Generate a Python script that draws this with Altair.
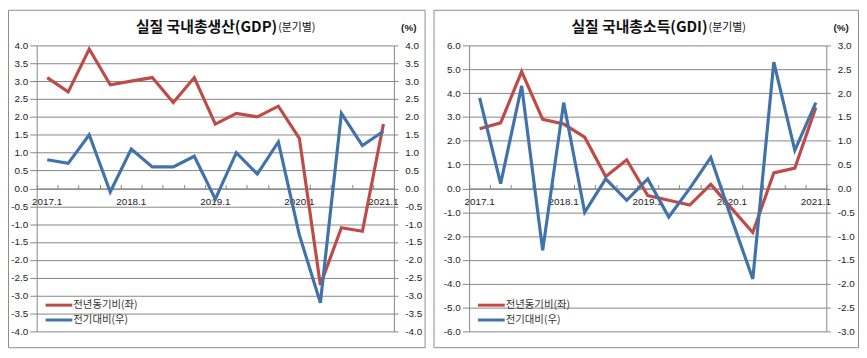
import altair as alt
import pandas as pd

quarters = ["2017.1", "2017.2", "2017.3", "2017.4",
            "2018.1", "2018.2", "2018.3", "2018.4",
            "2019.1", "2019.2", "2019.3", "2019.4",
            "2020.1", "2020.2", "2020.3", "2020.4",
            "2021.1"]
label_quarters = ["2017.1", "2018.1", "2019.1", "2020.1", "2021.1"]

# GDP (left panel)
gdp_yoy = [3.1, 2.7, 3.9, 2.9, 3.0, 3.1, 2.4, 3.1, 1.8, 2.1, 2.0, 2.3, 1.4, -2.7, -1.1, -1.2, 1.8]
gdp_qoq = [0.8, 0.7, 1.5, -0.1, 1.1, 0.6, 0.6, 0.9, -0.3, 1.0, 0.4, 1.3, -1.3, -3.2, 2.1, 1.2, 1.6]
# GDI (right panel)
gdi_yoy = [2.5, 2.75, 4.9, 2.9, 2.7, 2.15, 0.5, 1.2, -0.3, -0.5, -0.7, 0.17, -0.85, -1.85, 0.65, 0.85, 3.4]
gdi_qoq = [1.9, 0.1, 2.15, -1.3, 1.8, -0.5, 0.2, -0.25, 0.2, -0.6, 0.0, 0.65, -0.65, -1.9, 2.65, 0.8, 1.8]

gdp_left_ticks = [-4.0, -3.5, -3.0, -2.5, -2.0, -1.5, -1.0, -0.5, 0.0, 0.5, 1.0, 1.5, 2.0, 2.5, 3.0, 3.5, 4.0]
gdp_right_ticks = gdp_left_ticks
gdi_left_ticks = [-6.0, -5.0, -4.0, -3.0, -2.0, -1.0, 0.0, 1.0, 2.0, 3.0, 4.0, 5.0, 6.0]
gdi_right_ticks = [-3.0, -2.5, -2.0, -1.5, -1.0, -0.5, 0.0, 0.5, 1.0, 1.5, 2.0, 2.5, 3.0]

title_gdp = "실질 국내총생산(GDP)"
title_gdi = "실질 국내총소득(GDI)"
title_sub = "(분기별)"
unit_text = "(%)"
series_names = ["전년동기비(좌)", "전기대비(우)"]

RED = "#BE4B48"
BLUE = "#4272AA"
GRID = "#868686"
BORDER = "#8C8C8C"
KR = "Noto Sans CJK KR"
LAT = "Liberation Sans"

W = 361
H = 289

LABEL_EXPR = "replace(format(datum.value, '.1f'), '\u2212', '-')"


def panel(yoy, qoq, main_title, ldom, lvals, rdom, rvals, box_x, box_x2, title_x):
    df = pd.DataFrame({"q": quarters, "yoy": yoy, "qoq": qoq})
    one = pd.DataFrame({"k": [0]})
    xs = alt.Scale(type="band", domain=quarters, paddingInner=0, paddingOuter=0)

    box = alt.Chart(one).mark_rect(fillOpacity=0, stroke=BORDER, strokeWidth=1).encode(
        x=alt.value(box_x), x2=alt.value(box_x2), y=alt.value(-35.5), y2=alt.value(305.5)
    )

    red = alt.Chart(df).mark_line(color=RED, strokeWidth=3.2).encode(
        x=alt.X("q:O", bandPosition=0.5, scale=xs,
                axis=alt.Axis(orient="top", offset=-H / 2, labels=False, title=None,
                              ticks=True, tickBand="extent", tickSize=4, tickColor=GRID,
                              domainColor=GRID, grid=False, values=quarters)),
        y=alt.Y("yoy:Q", scale=alt.Scale(domain=ldom, nice=False, zero=False),
                axis=alt.Axis(orient="left", values=lvals, labelExpr=LABEL_EXPR, grid=True,
                              gridColor=GRID, domainColor=GRID, tickColor=GRID, tickSize=7,
                              labelPadding=2, title=None)),
    )

    blue = alt.Chart(df).mark_line(color=BLUE, strokeWidth=3.2).encode(
        x=alt.X("q:O", bandPosition=0.5, scale=xs,
                axis=alt.Axis(orient="bottom", offset=-H / 2, values=label_quarters,
                              ticks=False, domain=False, labelPadding=8, labelAngle=0,
                              title=None, grid=False)),
        y=alt.Y("qoq:Q", scale=alt.Scale(domain=rdom, nice=False, zero=False),
                axis=alt.Axis(orient="right", values=rvals, labelExpr=LABEL_EXPR, grid=False,
                              domainColor=GRID, tickColor=GRID, tickSize=4,
                              labelPadding=7, title=None)),
    )

    t_main = alt.Chart(one).mark_text(text=main_title, font=KR, fontSize=15, fontWeight="bold",
                                      align="right", baseline="middle", color="#111").encode(
        x=alt.value(title_x), y=alt.value(-19))
    t_sub = alt.Chart(one).mark_text(text=title_sub, font=KR, fontSize=11,
                                     align="left", baseline="middle", color="#111").encode(
        x=alt.value(title_x + 1), y=alt.value(-18))
    t_unit = alt.Chart(one).mark_text(text=unit_text, font=LAT, fontSize=10, fontWeight="bold",
                                      align="center", baseline="middle", color="#222").encode(
        x=alt.value(376), y=alt.value(-18))

    leg_r = alt.Chart(one).mark_rule(color=RED, strokeWidth=3).encode(
        x=alt.value(9), x2=alt.value(36), y=alt.value(262.5))
    leg_b = alt.Chart(one).mark_rule(color=BLUE, strokeWidth=3).encode(
        x=alt.value(9), x2=alt.value(36), y=alt.value(277.5))
    leg_rt = alt.Chart(one).mark_text(text=series_names[0], font=KR, fontSize=10.5, align="left",
                                      baseline="middle", color="#333").encode(
        x=alt.value(37), y=alt.value(262.5))
    leg_bt = alt.Chart(one).mark_text(text=series_names[1], font=KR, fontSize=10.5, align="left",
                                      baseline="middle", color="#333").encode(
        x=alt.value(37), y=alt.value(277.5))

    return alt.layer(box, red, blue, t_main, t_sub, t_unit, leg_r, leg_b, leg_rt, leg_bt).resolve_scale(
        y="independent").resolve_axis(x="independent").properties(width=W, height=H)


left = panel(gdp_yoy, gdp_qoq, title_gdp, [-4, 4], gdp_left_ticks, [-4, 4], gdp_right_ticks,
             -28.5, 392.5, 243)
right = panel(gdi_yoy, gdi_qoq, title_gdi, [-6, 6], gdi_left_ticks, [-3, 3], gdi_right_ticks,
              -35.5, 393.5, 241)

chart = alt.hconcat(left, right, spacing=8).properties(
    padding=0, background="white"
).configure_view(strokeWidth=0).configure_axis(
    labelFont=LAT, labelFontSize=10, labelColor="#222"
)

chart.save("out.html", embed_options={"renderer": "svg", "actions": False})
